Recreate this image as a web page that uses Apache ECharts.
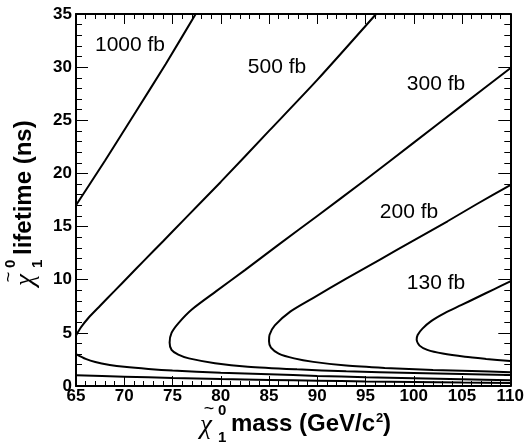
<!DOCTYPE html>
<html><head><meta charset="utf-8">
<script src="https://cdn.jsdelivr.net/npm/echarts@6/dist/echarts.min.js"></script>
<style>html,body{margin:0;padding:0;background:#fff}#c{width:527px;height:446px}</style>
</head><body><div id="c"></div>
<script>
// axis ranges (GeV/c^2, ns)
const massRange = [65, 110];
const lifetimeRange = [0, 35];

// contour points [mass, lifetime]
const xsec1000Upper = [[65,17],[68,21.2],[71.2,25.8],[74.3,30.3],[77.4,35]];
const xsec1000Lower = [[65,1.02],[70,0.88],[75,0.75],[80,0.65],[85,0.57],[90,0.5],[95,0.43],[100,0.37],[105,0.32],[110,0.28]];

const xsec500Upper = [[65,4.75],[65.5,5.5],[66.3,6.42],[67.5,7.55],[69,8.95],[70.5,10.35],[72,11.75],[74,13.6],[76.3,15.75],[80,19.2],[85,24],[90,28.8],[96.1,35]];
const xsec500Lower = [[65,3.0],[66,2.55],[67,2.25],[68.5,1.98],[70,1.8],[72.5,1.6],[75,1.45],[80,1.25],[85,1.1],[90,0.95],[95,0.82],[100,0.72],[105,0.63],[110,0.55]];

const xsec300 = [[110,29.9],[105,26.4],[100,22.9],[95,19.4],[90,16.0],[86,13.3],[82.5,10.9],[79.5,8.9],[77,7.2],[75.6,5.9],[74.9,5.0],[74.7,4.1],[74.9,3.4],[75.6,2.95],[76.7,2.6],[79.4,2.15],[82.8,1.82],[87.9,1.57],[93,1.38],[100,1.22],[105,1.12],[110,1.03]];

const xsec200 = [[110,18.9],[106.5,17.1],[103.5,15.5],[100,13.7],[96.5,11.9],[93,10.1],[89.6,8.3],[87.2,7.0],[85.6,5.7],[85.05,4.8],[85.0,4.2],[85.2,3.6],[86.0,3.05],[87.6,2.6],[89.6,2.27],[93,1.92],[97,1.7],[102,1.5],[106,1.4],[110,1.3]];

const xsec130 = [[110,9.85],[108.3,9.1],[106.6,8.35],[104.9,7.6],[103.2,6.85],[101.8,6.1],[100.9,5.4],[100.4,4.8],[100.3,4.35],[100.6,3.8],[101.4,3.4],[103,3.05],[105.3,2.75],[107.5,2.55],[110,2.35]];

const contourLabels = ['1000 fb', '500 fb', '300 fb', '200 fb', '130 fb'];

const FONT = '"Liberation Sans", Arial, Helvetica, sans-serif';
const GREEK = '"Liberation Serif", "DejaVu Serif", serif';
const chart = echarts.init(document.getElementById('c'), null, {renderer: 'canvas'});

const tickLab = {color:'#000', fontFamily: FONT, fontWeight:'bold', fontSize:17};
function xAx(pos, showLab) {
  return {
    type:'value', position: pos, min: massRange[0], max: massRange[1], interval: 5,
    axisLine: {show:true, onZero:false, lineStyle:{color:'#000', width:2}},
    axisTick: {show:true, inside:true, length:10, lineStyle:{color:'#000', width:1}},
    minorTick: {show:true, splitNumber:5, length:5, lineStyle:{color:'#000', width:1}},
    splitLine: {show:false}, minorSplitLine:{show:false},
    axisLabel: Object.assign({show: showLab, margin: 2}, tickLab)
  };
}
function yAx(pos, showLab) {
  return {
    type:'value', position: pos, min: lifetimeRange[0], max: lifetimeRange[1], interval: 5,
    axisLine: {show:true, onZero:false, lineStyle:{color:'#000', width:2}},
    axisTick: {show:true, inside:true, length:12, lineStyle:{color:'#000', width:1}},
    minorTick: {show:true, splitNumber:5, length:6, lineStyle:{color:'#000', width:1}},
    splitLine: {show:false}, minorSplitLine:{show:false},
    axisLabel: Object.assign({show: showLab, margin: 4}, tickLab)
  };
}

function line(data, sm) {
  return {type:'line', data: data, xAxisIndex:0, yAxisIndex:0, showSymbol:false, symbol:'none',
    smooth: sm === undefined ? 0.25 : sm, clip:true, lineStyle:{color:'#000', width:2}, silent:true};
}

const titleFont = 'bold 24px ' + FONT;
function txt(text, x, y, font, align) {
  return {type:'text', x: x, y: y, style:{text:text, font:font, fill:'#000', textAlign: align || 'left', textVerticalAlign:'middle', verticalAlign:'middle'}};
}
function titleParts(rest) {
  return [
    txt('χ', 0, -7, 'italic 27px ' + GREEK),
    txt('~', 9, -24, '18px ' + FONT, 'center'),
    txt('0', 18, -22, 'bold 15px ' + FONT),
    txt('1', 18, 5, 'bold 15px ' + FONT)
  ].concat(rest);
}

const option = {
  animation:false,
  backgroundColor:'#fff',
  grid:{left:76, top:14, right:11, bottom:60, containLabel:false, show:false},
  xAxis:[xAx('bottom', true), xAx('top', false)],
  yAxis:[yAx('left', true), yAx('right', false)],
  series:[
    line(xsec1000Upper, 0.2), line(xsec1000Lower),
    line(xsec500Upper), line(xsec500Lower),
    line(xsec300), line(xsec200), line(xsec130)
  ],
  graphic:[
    txt(contourLabels[0], 130, 45, '21px ' + FONT, 'center'),
    txt(contourLabels[1], 277, 67, '21px ' + FONT, 'center'),
    txt(contourLabels[2], 436, 84, '21px ' + FONT, 'center'),
    txt(contourLabels[3], 409, 212, '21px ' + FONT, 'center'),
    txt(contourLabels[4], 436, 283, '21px ' + FONT, 'center'),
    {type:'group', x:200, y:433, children: titleParts([
      txt('mass (GeV/c', 31, -8.3, titleFont),
      txt('2', 176, -15, 'bold 13px ' + FONT),
      txt(')', 183, -8.3, titleFont)
    ])},
    {type:'group', x:33, y:286, rotation: Math.PI/2, children: titleParts([
      txt('lifetime (ns)', 31, -8.3, titleFont)
    ])}
  ]
};
chart.setOption(option);
</script></body></html>
